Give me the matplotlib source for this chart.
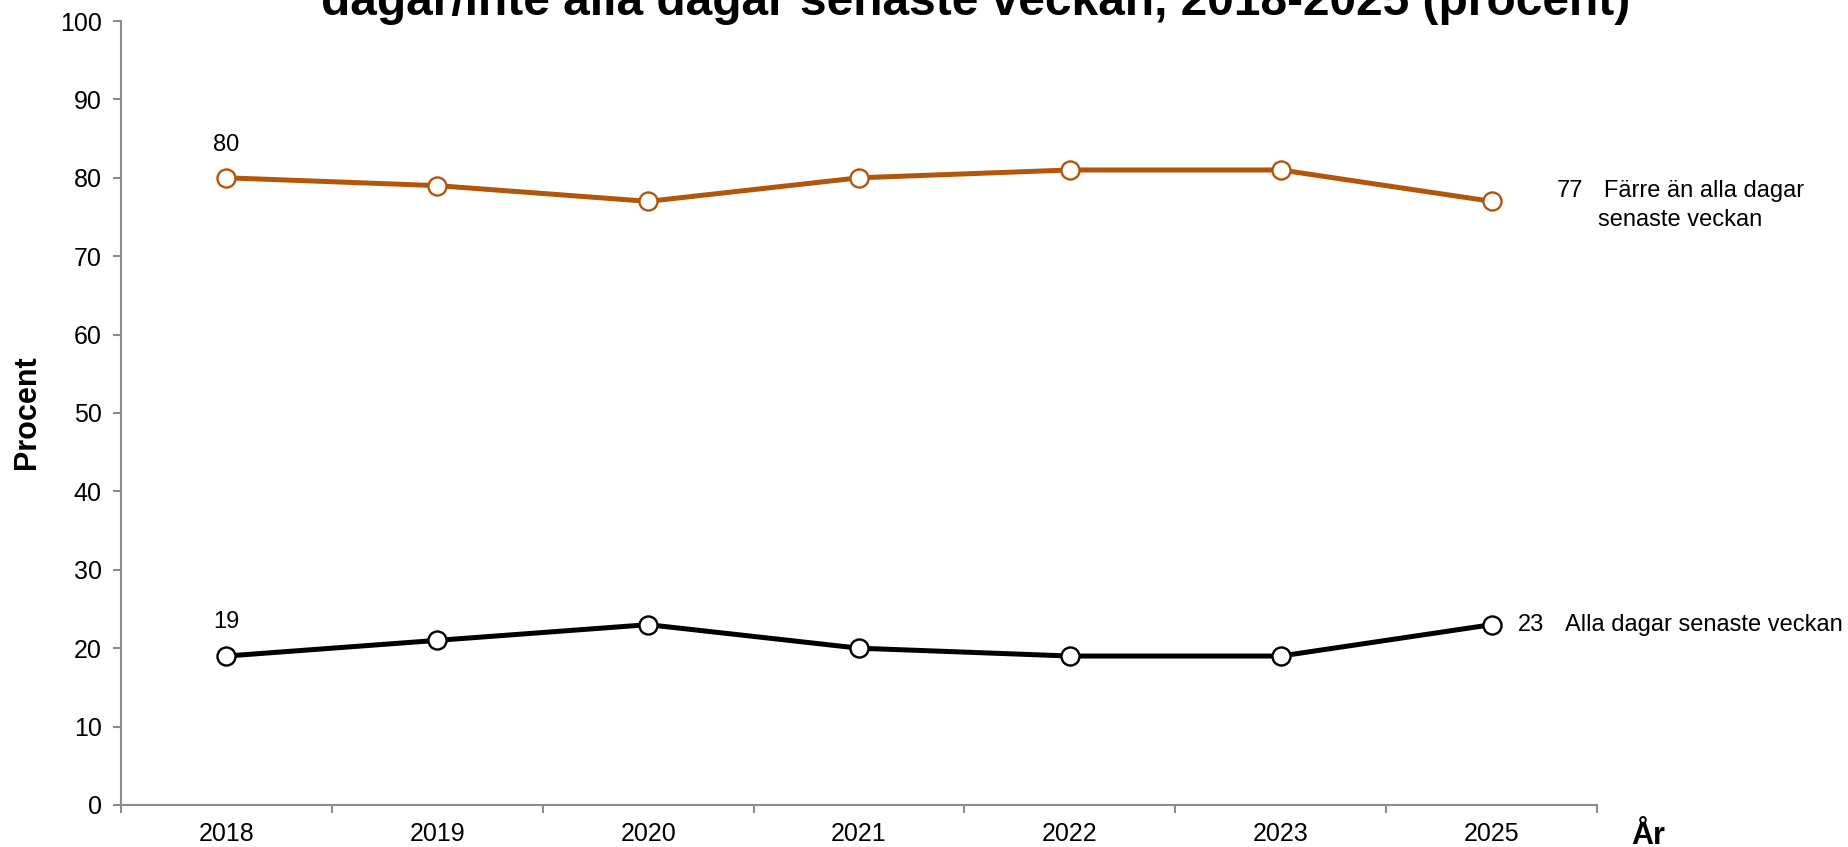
import matplotlib
matplotlib.use("Agg")
import matplotlib.pyplot as plt

plt.rcParams['font.family'] = ['Liberation Sans', 'DejaVu Sans']

years = ['2018', '2019', '2020', '2021', '2022', '2023', '2025']
farre_an_alla = [80, 79, 77, 80, 81, 81, 77]
alla_dagar = [19, 21, 23, 20, 19, 19, 23]

title = 'dagar/inte alla dagar senaste veckan, 2018-2025 (procent)'
label_farre = ['Färre än alla dagar', 'senaste veckan']
label_alla = 'Alla dagar senaste veckan'

orange = '#B1560A'
axis_grey = '#8C8C8C'

fig = plt.figure(figsize=(18.48, 8.47), dpi=100)
ax = fig.add_axes([0.0655, 0.0496, 0.7987, 0.9256])

x = list(range(len(years)))
ax.plot(x, farre_an_alla, color=orange, linewidth=3.6, marker='o', markersize=13,
        markerfacecolor='white', markeredgecolor=orange, markeredgewidth=1.7, zorder=3)
ax.plot(x, alla_dagar, color='black', linewidth=3.6, marker='o', markersize=13,
        markerfacecolor='white', markeredgecolor='black', markeredgewidth=1.7, zorder=3)

ax.set_xlim(-0.5, len(years) - 0.5)
ax.set_ylim(0, 100)

# category ticks between points, labels at the points (Excel style)
ax.set_xticks([i - 0.5 for i in range(len(years) + 1)])
ax.set_xticklabels([])
ax.set_xticks(x, minor=True)
ax.set_xticklabels(years, minor=True)
ax.tick_params(axis='x', which='major', direction='out', length=6, width=1.5, color=axis_grey)
ax.tick_params(axis='x', which='minor', length=0, labelsize=18, pad=12)
ax.set_yticks(range(0, 101, 10))
ax.tick_params(axis='y', direction='out', length=6, width=1.5, color=axis_grey, labelsize=18, pad=8)

for side in ['top', 'right']:
    ax.spines[side].set_visible(False)
for side in ['left', 'bottom']:
    ax.spines[side].set_color(axis_grey)
    ax.spines[side].set_linewidth(1.5)

# data labels
ax.annotate(str(farre_an_alla[0]), (x[0], farre_an_alla[0]), xytext=(0, 33),
            textcoords='offset pixels', ha='center', va='center', fontsize=17)
ax.annotate(str(alla_dagar[0]), (x[0], alla_dagar[0]), xytext=(0, 34),
            textcoords='offset pixels', ha='center', va='center', fontsize=17)

ax.annotate(str(farre_an_alla[-1]), (x[-1], farre_an_alla[-1]), xytext=(65, 4),
            textcoords='offset pixels', ha='left', va='baseline', fontsize=17,
            annotation_clip=False)
ax.annotate(label_farre[0], (x[-1], farre_an_alla[-1]), xytext=(112, 4),
            textcoords='offset pixels', ha='left', va='baseline', fontsize=17,
            annotation_clip=False)
ax.annotate(label_farre[1], (x[-1], farre_an_alla[-1]), xytext=(106, -25),
            textcoords='offset pixels', ha='left', va='baseline', fontsize=17,
            annotation_clip=False)

ax.annotate(str(alla_dagar[-1]), (x[-1], alla_dagar[-1]), xytext=(26, 0),
            textcoords='offset pixels', ha='left', va='center', fontsize=17,
            annotation_clip=False)
ax.annotate(label_alla, (x[-1], alla_dagar[-1]), xytext=(73, 0),
            textcoords='offset pixels', ha='left', va='center', fontsize=17,
            annotation_clip=False)

fig.text(0.0145, 0.513, 'Procent', rotation=90, ha='center', va='center',
         fontsize=22, fontweight='bold')
fig.text(0.892, 0.004, 'År', ha='center', va='baseline', fontsize=22, fontweight='bold')

fig.text(0.528, 0.982, title, ha='center', va='baseline', fontsize=34.5, fontweight='bold')

fig.savefig('out.png', dpi=100)
